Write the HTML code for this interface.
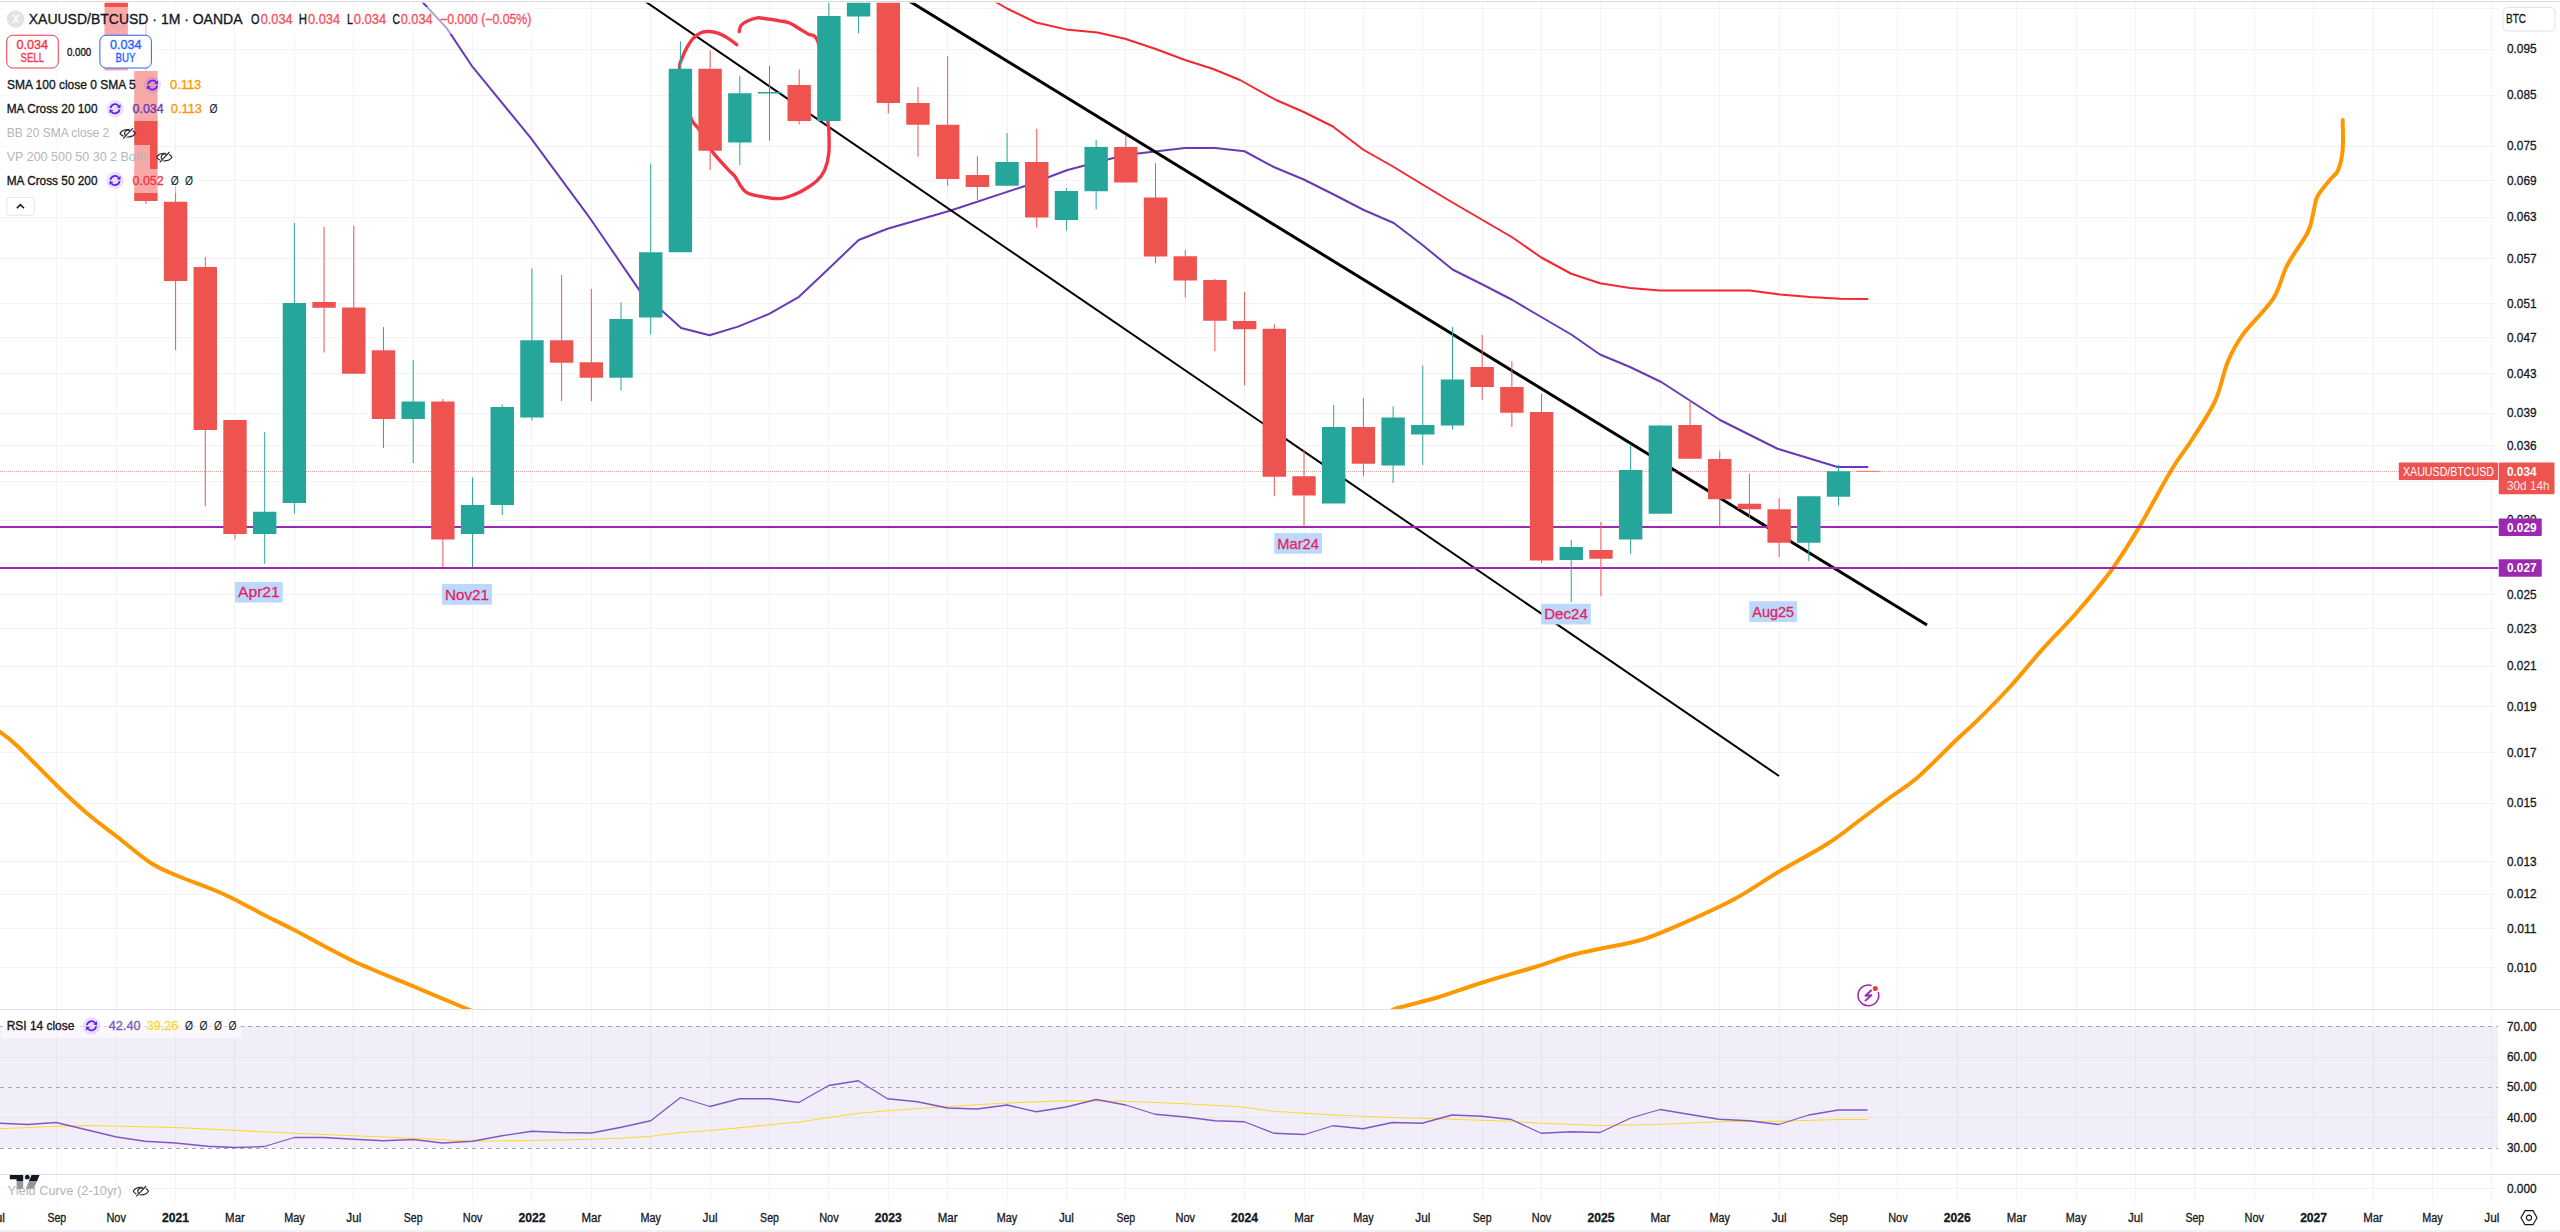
<!DOCTYPE html>
<html><head><meta charset="utf-8"><style>
html,body{margin:0;padding:0;width:2560px;height:1232px;overflow:hidden;background:#fff}
body{position:relative;font-family:"Liberation Sans",sans-serif;color:#131722}
</style></head><body>
<svg width="2560" height="1232" viewBox="0 0 2560 1232" style="position:absolute;left:0;top:0;font-family:'Liberation Sans',sans-serif">
<defs><clipPath id="cm"><rect x="0" y="2.75" width="2498" height="1006.25"/></clipPath><clipPath id="cr"><rect x="0" y="1010" width="2498" height="164"/></clipPath></defs>
<rect x="0" y="0" width="2560" height="1232" fill="#ffffff"/>
<path d="M56.5 3V1203 M116.5 3V1203 M175.5 3V1203 M234.5 3V1203 M294.5 3V1203 M353.5 3V1203 M413.5 3V1203 M472.5 3V1203 M531.5 3V1203 M591.5 3V1203 M650.5 3V1203 M710.5 3V1203 M769.5 3V1203 M828.5 3V1203 M888.5 3V1203 M947.5 3V1203 M1007.5 3V1203 M1066.5 3V1203 M1125.5 3V1203 M1185.5 3V1203 M1244.5 3V1203 M1304.5 3V1203 M1363.5 3V1203 M1422.5 3V1203 M1482.5 3V1203 M1541.5 3V1203 M1600.5 3V1203 M1660.5 3V1203 M1719.5 3V1203 M1779.5 3V1203 M1838.5 3V1203 M1897.5 3V1203 M1957.5 3V1203 M2016.5 3V1203 M2076.5 3V1203 M2135.5 3V1203 M2194.5 3V1203 M2254.5 3V1203 M2313.5 3V1203 M2373.5 3V1203 M2432.5 3V1203 M2491.5 3V1203 M0 8.5H2498 M0 49.5H2498 M0 95.5H2498 M0 146.5H2498 M0 180.5H2498 M0 217.5H2498 M0 258.5H2498 M0 303.5H2498 M0 337.5H2498 M0 373.5H2498 M0 413.5H2498 M0 445.5H2498 M0 481.5H2498 M0 520.5H2498 M0 563.5H2498 M0 594.5H2498 M0 628.5H2498 M0 666.5H2498 M0 706.5H2498 M0 752.5H2498 M0 803.5H2498 M0 861.5H2498 M0 894.5H2498 M0 928.5H2498 M0 967.5H2498 M0 1057.5H2498 M0 1117.5H2498 M0 1188.5H2498" stroke="#F2F4F4" stroke-width="1" fill="none"/>
<path d="M0 1009.5H2560M0 1174.5H2560M0 1231H2560" stroke="#E0E3EB" stroke-width="1" fill="none"/><path d="M0 1.5H2560" stroke="#D8DBDC" stroke-width="1" fill="none"/>
<g clip-path="url(#cm)">
<path d="M-5.00 729.00 C-4.17 729.50 -3.54 729.33 0.00 732.00 C3.54 734.67 6.67 735.96 16.25 745.00 C25.83 754.04 45.62 774.79 57.50 786.25 C69.38 797.71 77.67 805.42 87.50 813.75 C97.33 822.08 106.08 828.12 116.50 836.25 C126.92 844.38 140.17 856.04 150.00 862.50 C159.83 868.96 163.83 870.00 175.50 875.00 C187.17 880.00 207.58 887.08 220.00 892.50 C232.42 897.92 242.50 903.67 250.00 907.50 C257.50 911.33 257.62 911.75 265.00 915.50 C272.38 919.25 279.46 922.38 294.25 930.00 C309.04 937.62 333.92 951.88 353.75 961.25 C373.58 970.62 395.12 978.62 413.25 986.25 C431.38 993.88 452.21 1002.71 462.50 1007.00 C472.79 1011.29 472.92 1011.17 475.00 1012.00" fill="none" stroke="#FF9800" stroke-width="4" stroke-linejoin="round"/>
<path d="M1390.00 1012.00 C1391.25 1011.33 1389.58 1010.42 1397.50 1008.00 C1405.42 1005.58 1423.33 1001.75 1437.50 997.50 C1451.67 993.25 1466.25 987.58 1482.50 982.50 C1498.75 977.42 1520.42 971.50 1535.00 967.00 C1549.58 962.50 1559.17 958.54 1570.00 955.50 C1580.83 952.46 1587.92 951.42 1600.00 948.75 C1612.08 946.08 1627.92 944.08 1642.50 939.50 C1657.08 934.92 1672.08 928.04 1687.50 921.25 C1702.92 914.46 1720.00 906.88 1735.00 898.75 C1750.00 890.62 1762.08 881.67 1777.50 872.50 C1792.92 863.33 1813.75 852.50 1827.50 843.75 C1841.25 835.00 1849.58 827.71 1860.00 820.00 C1870.42 812.29 1880.42 804.58 1890.00 797.50 C1899.58 790.42 1906.67 786.88 1917.50 777.50 C1928.33 768.12 1944.98 750.80 1955.00 741.25 C1965.02 731.70 1968.38 729.33 1977.60 720.20 C1986.82 711.08 1999.40 698.42 2010.30 686.50 C2021.20 674.58 2032.08 660.87 2043.00 648.70 C2053.92 636.53 2064.47 626.50 2075.80 613.50 C2087.13 600.50 2100.52 584.97 2111.00 570.70 C2121.48 556.43 2128.63 544.68 2138.70 527.90 C2148.77 511.12 2162.57 484.65 2171.40 470.00 C2180.23 455.35 2184.40 451.52 2191.70 440.00 C2199.00 428.48 2209.22 413.87 2215.20 400.90 C2221.18 387.93 2223.00 373.25 2227.60 362.20 C2232.20 351.15 2235.20 345.18 2242.80 334.60 C2250.40 324.02 2265.83 310.20 2273.20 298.70 C2280.57 287.20 2281.25 276.63 2287.00 265.60 C2292.75 254.57 2303.33 241.23 2307.70 232.50 C2312.07 223.77 2311.60 219.18 2313.20 213.20 C2314.80 207.22 2314.53 202.13 2317.30 196.60 C2320.07 191.07 2326.35 184.37 2329.80 180.00 C2333.25 175.63 2335.85 175.45 2338.00 170.40 C2340.15 165.35 2341.92 158.12 2342.70 149.70 C2343.48 141.28 2342.70 124.87 2342.70 119.90" fill="none" stroke="#FF9800" stroke-width="4" stroke-linejoin="round" stroke-linecap="round"/>
<polyline points="418.00,-4.00 422.70,2.30 446.90,28.40 472.40,66.70 530.70,137.80 590.30,218.70 640.00,291.10 681.20,328.00 709.60,335.20 738.00,326.60 769.20,313.90 799.00,296.80 828.90,268.40 858.70,240.00 887.50,228.75 950.00,210.75 1025.00,186.00 1067.50,170.00 1125.00,155.00 1185.00,148.00 1215.00,148.00 1244.50,151.25 1273.75,167.00 1303.75,179.50 1333.75,194.50 1363.75,210.00 1393.75,223.00 1422.50,245.00 1452.50,269.50 1482.50,284.50 1512.50,300.00 1541.25,317.00 1571.25,334.50 1600.00,354.50 1630.00,367.00 1661.25,382.00 1720.00,420.00 1777.50,448.75 1837.50,467.00 1867.50,467.00" fill="none" stroke="#673AB7" stroke-width="2" stroke-linejoin="round" stroke-linecap="round"/>
<polyline points="985.00,-4.00 997.00,2.75 1007.50,8.75 1036.00,22.50 1066.00,29.40 1097.50,32.50 1125.00,38.75 1155.00,48.75 1185.00,60.00 1212.50,68.75 1240.00,80.00 1276.00,100.00 1303.75,112.00 1332.50,126.25 1363.75,150.00 1392.50,166.25 1421.25,183.75 1452.50,202.50 1482.50,220.00 1512.50,237.50 1541.25,257.50 1571.25,273.75 1600.00,283.25 1630.00,288.00 1660.00,290.50 1750.00,290.50 1780.00,294.50 1810.00,297.00 1840.00,298.75 1867.50,299.00" fill="none" stroke="#F7252F" stroke-width="2" stroke-linejoin="round" stroke-linecap="round"/>
<line x1="640.2" y1="-2" x2="1779" y2="776" stroke="#000" stroke-width="2"/>
<line x1="904.3" y1="-2" x2="1927" y2="625" stroke="#000" stroke-width="3"/>
<path d="M736.70 44.70 C735.28 43.65 731.32 40.32 728.20 38.40 C725.08 36.48 721.13 34.35 718.00 33.20 C714.87 32.05 712.25 31.58 709.40 31.50 C706.55 31.42 703.60 31.55 700.90 32.70 C698.20 33.85 695.47 36.03 693.20 38.40 C690.93 40.77 689.13 43.63 687.30 46.90 C685.47 50.17 683.48 54.45 682.20 58.00 C680.92 61.55 679.13 62.03 679.60 68.20 C680.07 74.37 683.02 86.47 685.00 95.00 C686.98 103.53 689.13 113.63 691.50 119.40 C693.87 125.17 695.92 124.50 699.20 129.60 C702.48 134.70 707.78 144.88 711.20 150.00 C714.62 155.12 716.58 156.73 719.70 160.30 C722.82 163.87 727.35 168.70 729.90 171.40 C732.45 174.10 733.02 173.80 735.00 176.50 C736.98 179.20 739.80 184.90 741.80 187.60 C743.80 190.30 744.15 191.28 747.00 192.70 C749.85 194.12 753.50 195.12 758.90 196.10 C764.30 197.08 773.43 198.88 779.40 198.60 C785.37 198.32 790.45 195.95 794.70 194.40 C798.95 192.85 801.20 191.58 804.90 189.30 C808.60 187.02 813.63 183.83 816.90 180.70 C820.17 177.57 822.52 175.03 824.50 170.50 C826.48 165.97 828.08 160.32 828.80 153.50 C829.52 146.68 828.95 135.02 828.80 129.60 C828.65 124.18 828.53 130.93 827.90 121.00 C827.27 111.07 826.83 83.63 825.00 70.00 C823.17 56.37 819.68 45.18 816.90 39.20 C814.12 33.22 811.15 35.80 808.30 34.10 C805.45 32.40 802.92 30.85 799.80 29.00 C796.68 27.15 793.00 24.37 789.60 23.00 C786.20 21.63 783.38 21.50 779.40 20.80 C775.42 20.10 769.40 19.28 765.70 18.80 C762.00 18.32 760.32 17.48 757.20 17.90 C754.08 18.32 749.70 20.02 747.00 21.30 C744.30 22.58 742.28 23.90 741.00 25.60 C739.72 27.30 739.58 30.52 739.30 31.50" fill="none" stroke="#F23645" stroke-width="3.4" stroke-linejoin="round" stroke-linecap="round"/>
<path d="M0 527H2498M0 568H2498" stroke="#9C27B0" stroke-width="2" fill="none"/>
<line x1="0" y1="471.5" x2="2498" y2="471.5" stroke="#EF5350" stroke-width="1" stroke-dasharray="1,1" opacity="0.55"/>
<path d="M116.21 -5.00V70.60 M145.91 21.00V204.00 M175.60 186.00V350.00 M205.29 257.00V506.00 M234.99 420.00V539.50 M324.07 226.75V352.50 M353.77 225.75V373.75 M383.47 327.00V448.00 M442.86 399.00V567.00 M561.63 275.00V401.25 M591.33 288.75V401.25 M710.11 50.50V170.00 M799.20 69.50V124.40 M888.28 -5.00V113.50 M917.98 87.00V156.75 M947.67 56.25V185.75 M977.37 156.25V200.00 M1036.75 128.75V227.50 M1125.84 135.75V182.50 M1155.54 163.00V263.25 M1185.23 250.00V297.50 M1214.92 279.00V351.25 M1244.62 292.00V385.50 M1274.31 324.25V496.25 M1304.01 450.00V526.25 M1363.40 398.00V476.25 M1482.18 335.00V400.00 M1511.88 361.25V427.00 M1541.57 393.75V563.00 M1600.96 522.00V596.25 M1690.04 400.00V458.75 M1719.74 451.25V526.25 M1749.43 473.75V518.00 M1779.13 498.00V557.00" stroke="#EF5350" stroke-width="1" fill="none"/>
<path d="M104.51 -5.00H127.91V70.60H104.51Z M134.21 71.00H157.60V201.00H134.21Z M163.90 201.75H187.30V281.00H163.90Z M193.59 267.00H216.99V430.00H193.59Z M223.29 420.00H246.69V534.00H223.29Z M312.38 302.00H335.77V307.75H312.38Z M342.07 307.50H365.47V373.75H342.07Z M371.77 350.25H395.17V419.00H371.77Z M431.16 401.50H454.56V539.50H431.16Z M549.93 340.25H573.34V362.75H549.93Z M579.63 362.25H603.03V377.75H579.63Z M698.41 68.75H721.81V150.75H698.41Z M787.50 85.00H810.90V121.00H787.50Z M876.58 -5.00H899.98V103.00H876.58Z M906.27 103.00H929.68V124.75H906.27Z M935.97 124.75H959.37V179.00H935.97Z M965.66 175.00H989.07V187.00H965.66Z M1025.05 162.00H1048.45V217.50H1025.05Z M1114.14 147.00H1137.54V182.50H1114.14Z M1143.84 197.50H1167.24V256.50H1143.84Z M1173.53 256.25H1196.93V280.50H1173.53Z M1203.22 280.00H1226.62V320.75H1203.22Z M1232.92 321.00H1256.32V329.25H1232.92Z M1262.61 328.75H1286.01V476.75H1262.61Z M1292.31 476.25H1315.71V495.50H1292.31Z M1351.70 427.00H1375.10V463.75H1351.70Z M1470.48 367.00H1493.88V387.00H1470.48Z M1500.17 387.00H1523.58V412.75H1500.17Z M1529.87 412.00H1553.27V560.50H1529.87Z M1589.26 550.00H1612.66V558.75H1589.26Z M1678.34 425.00H1701.74V458.75H1678.34Z M1708.04 459.00H1731.44V499.25H1708.04Z M1737.73 503.75H1761.13V509.25H1737.73Z M1767.43 509.25H1790.83V542.75H1767.43Z" fill="#EF5350"/>
<path d="M264.69 432.00V563.75 M294.38 223.00V513.75 M413.16 360.00V463.00 M472.55 477.50V567.00 M502.25 404.50V515.00 M531.94 268.50V420.60 M621.02 302.50V390.60 M650.72 163.50V334.60 M680.41 41.20V252.30 M739.81 76.00V165.00 M769.50 66.00V140.75 M828.89 -5.00V122.50 M858.59 -5.00V33.50 M1007.06 133.00V185.75 M1066.45 188.00V230.50 M1096.14 140.00V209.25 M1333.70 405.00V503.50 M1393.10 406.25V483.00 M1422.79 365.50V465.00 M1452.48 327.00V429.50 M1571.26 540.00V602.00 M1630.65 444.50V553.75 M1660.35 425.50V513.75 M1808.82 496.00V561.25 M1838.52 465.00V505.50" stroke="#26A69A" stroke-width="1" fill="none"/>
<path d="M252.99 511.75H276.38V534.00H252.99Z M282.68 303.00H306.08V503.00H282.68Z M401.46 401.50H424.86V419.00H401.46Z M460.85 505.00H484.25V534.00H460.85Z M490.55 407.00H513.95V505.00H490.55Z M520.24 340.25H543.64V417.50H520.24Z M609.32 319.00H632.73V377.75H609.32Z M639.02 252.20H662.42V317.50H639.02Z M668.71 68.70H692.12V252.30H668.71Z M728.11 93.25H751.51V142.50H728.11Z M757.80 92.00H781.20V93.50H757.80Z M817.19 16.00H840.59V121.00H817.19Z M846.88 -5.00H870.29V16.50H846.88Z M995.36 162.00H1018.76V185.75H995.36Z M1054.75 191.00H1078.15V220.00H1054.75Z M1084.44 147.00H1107.85V191.25H1084.44Z M1322.00 427.00H1345.40V503.50H1322.00Z M1381.39 417.50H1404.80V465.50H1381.39Z M1411.09 425.00H1434.49V434.50H1411.09Z M1440.78 379.50H1464.18V425.50H1440.78Z M1559.56 547.00H1582.96V560.00H1559.56Z M1618.95 470.00H1642.36V539.50H1618.95Z M1648.65 425.50H1672.05V513.75H1648.65Z M1797.12 496.25H1820.52V542.75H1797.12Z M1826.82 471.25H1850.22V496.75H1826.82Z" fill="#26A69A"/>
<rect x="1856.51" y="470.8" width="23.4" height="1" fill="#EF5350" opacity="0.75"/>
</g>
<g clip-path="url(#cr)">
<rect x="0" y="1026" width="2498" height="122" fill="#7E57C2" fill-opacity="0.1"/>
<line x1="0" y1="1026.5" x2="2498" y2="1026.5" stroke="#A3A6AF" stroke-width="1" stroke-dasharray="4,4"/>
<line x1="0" y1="1087.5" x2="2498" y2="1087.5" stroke="#A3A6AF" stroke-width="1" stroke-dasharray="4,4"/>
<line x1="0" y1="1148.5" x2="2498" y2="1148.5" stroke="#A3A6AF" stroke-width="1" stroke-dasharray="4,4"/>
<polyline points="-5.00,1129.00 0.00,1128.75 56.25,1126.25 87.50,1125.50 175.50,1127.50 294.25,1133.25 413.25,1138.25 472.50,1141.25 532.00,1140.50 591.50,1139.25 620.00,1138.25 650.75,1136.25 680.50,1132.50 710.00,1130.50 798.75,1122.00 858.25,1113.25 887.50,1110.75 947.50,1106.50 1007.00,1103.00 1066.25,1100.75 1125.75,1101.25 1185.00,1103.75 1240.00,1106.75 1273.75,1111.25 1333.00,1115.00 1392.50,1117.50 1452.00,1119.25 1511.25,1121.25 1541.25,1123.25 1600.00,1125.50 1660.00,1124.50 1718.75,1121.75 1778.75,1121.25 1838.25,1119.50 1867.50,1119.50" fill="none" stroke="#FDD835" stroke-width="1.15" stroke-linejoin="round"/>
<polyline points="-5.00,1123.00 0.00,1123.25 27.50,1124.50 56.25,1122.50 116.50,1137.00 145.00,1141.25 175.50,1143.00 207.50,1146.25 235.00,1147.50 264.25,1146.50 294.25,1137.50 323.75,1137.50 353.75,1139.25 383.25,1140.75 413.25,1139.50 442.50,1143.00 472.50,1141.25 502.00,1135.75 532.00,1131.25 561.50,1132.50 591.50,1133.00 620.00,1127.50 650.75,1120.75 680.50,1097.50 710.00,1106.50 739.50,1098.75 769.50,1098.75 798.75,1102.50 828.75,1085.50 858.25,1080.75 887.50,1098.75 917.50,1101.75 947.50,1108.00 977.00,1109.00 1007.00,1105.00 1036.25,1111.75 1066.25,1107.00 1096.25,1099.50 1125.75,1105.00 1155.00,1114.25 1185.00,1117.00 1215.00,1120.75 1244.25,1121.75 1273.75,1133.25 1304.50,1134.50 1333.00,1125.75 1363.00,1128.75 1392.50,1122.50 1422.00,1123.25 1452.00,1115.00 1482.00,1116.25 1511.25,1119.50 1541.25,1133.25 1571.25,1131.75 1600.00,1132.50 1630.75,1118.00 1660.00,1109.50 1690.00,1114.50 1718.75,1119.25 1749.25,1120.75 1778.75,1124.50 1808.75,1115.00 1838.25,1110.00 1867.50,1110.00" fill="none" stroke="#7E57C2" stroke-width="1.3" stroke-linejoin="round"/>
</g>
<rect x="235" y="582" width="47.75" height="20.5" fill="#BBD9FB"/>
<text x="258.875" y="597.45" text-anchor="middle" font-size="15" fill="#E91E63" stroke="#E91E63" stroke-width="0.3" textLength="41.75" lengthAdjust="spacingAndGlyphs">Apr21</text>
<rect x="442" y="584" width="50" height="20.75" fill="#BBD9FB"/>
<text x="467.0" y="599.575" text-anchor="middle" font-size="15" fill="#E91E63" stroke="#E91E63" stroke-width="0.3" textLength="44" lengthAdjust="spacingAndGlyphs">Nov21</text>
<rect x="1274.25" y="533" width="47.75" height="20.75" fill="#BBD9FB"/>
<text x="1298.125" y="548.575" text-anchor="middle" font-size="15" fill="#E91E63" stroke="#E91E63" stroke-width="0.3" textLength="41.75" lengthAdjust="spacingAndGlyphs">Mar24</text>
<rect x="1541.25" y="603.75" width="49.5" height="20.75" fill="#BBD9FB"/>
<text x="1566.0" y="619.325" text-anchor="middle" font-size="15" fill="#E91E63" stroke="#E91E63" stroke-width="0.3" textLength="43.5" lengthAdjust="spacingAndGlyphs">Dec24</text>
<rect x="1749.25" y="601.25" width="47.75" height="20.75" fill="#BBD9FB"/>
<text x="1773.125" y="616.825" text-anchor="middle" font-size="15" fill="#E91E63" stroke="#E91E63" stroke-width="0.3" textLength="41.75" lengthAdjust="spacingAndGlyphs">Aug25</text>
<g transform="translate(1868.4,995.4)"><path d="M9.81 -3.30A10.35 10.35 0 1 1 3.2 -9.84" fill="none" stroke="#9C27B0" stroke-width="1.5"/><path d="M2.7 -4.9L-3.0 0.3L3.0 -0.1L-3.0 5.2" fill="none" stroke="#9C27B0" stroke-width="1.9" stroke-linejoin="round" stroke-linecap="round"/><circle cx="6.9" cy="-6.9" r="2.5" fill="#F23645"/></g>
<text x="2507" y="53.3" font-size="12.5" fill="#131722" stroke="#131722" stroke-width="0.3" textLength="29.5" lengthAdjust="spacingAndGlyphs">0.095</text>
<text x="2507" y="99.3" font-size="12.5" fill="#131722" stroke="#131722" stroke-width="0.3" textLength="29.5" lengthAdjust="spacingAndGlyphs">0.085</text>
<text x="2507" y="150.3" font-size="12.5" fill="#131722" stroke="#131722" stroke-width="0.3" textLength="29.5" lengthAdjust="spacingAndGlyphs">0.075</text>
<text x="2507" y="184.8" font-size="12.5" fill="#131722" stroke="#131722" stroke-width="0.3" textLength="29.5" lengthAdjust="spacingAndGlyphs">0.069</text>
<text x="2507" y="221.3" font-size="12.5" fill="#131722" stroke="#131722" stroke-width="0.3" textLength="29.5" lengthAdjust="spacingAndGlyphs">0.063</text>
<text x="2507" y="263.05" font-size="12.5" fill="#131722" stroke="#131722" stroke-width="0.3" textLength="29.5" lengthAdjust="spacingAndGlyphs">0.057</text>
<text x="2507" y="308.05" font-size="12.5" fill="#131722" stroke="#131722" stroke-width="0.3" textLength="29.5" lengthAdjust="spacingAndGlyphs">0.051</text>
<text x="2507" y="341.8" font-size="12.5" fill="#131722" stroke="#131722" stroke-width="0.3" textLength="29.5" lengthAdjust="spacingAndGlyphs">0.047</text>
<text x="2507" y="377.8" font-size="12.5" fill="#131722" stroke="#131722" stroke-width="0.3" textLength="29.5" lengthAdjust="spacingAndGlyphs">0.043</text>
<text x="2507" y="417.3" font-size="12.5" fill="#131722" stroke="#131722" stroke-width="0.3" textLength="29.5" lengthAdjust="spacingAndGlyphs">0.039</text>
<text x="2507" y="450.3" font-size="12.5" fill="#131722" stroke="#131722" stroke-width="0.3" textLength="29.5" lengthAdjust="spacingAndGlyphs">0.036</text>
<text x="2507" y="524.3" font-size="12.5" fill="#131722" stroke="#131722" stroke-width="0.3" textLength="29.5" lengthAdjust="spacingAndGlyphs">0.030</text>
<text x="2507" y="599.05" font-size="12.5" fill="#131722" stroke="#131722" stroke-width="0.3" textLength="29.5" lengthAdjust="spacingAndGlyphs">0.025</text>
<text x="2507" y="632.8" font-size="12.5" fill="#131722" stroke="#131722" stroke-width="0.3" textLength="29.5" lengthAdjust="spacingAndGlyphs">0.023</text>
<text x="2507" y="670.3" font-size="12.5" fill="#131722" stroke="#131722" stroke-width="0.3" textLength="29.5" lengthAdjust="spacingAndGlyphs">0.021</text>
<text x="2507" y="710.8" font-size="12.5" fill="#131722" stroke="#131722" stroke-width="0.3" textLength="29.5" lengthAdjust="spacingAndGlyphs">0.019</text>
<text x="2507" y="756.55" font-size="12.5" fill="#131722" stroke="#131722" stroke-width="0.3" textLength="29.5" lengthAdjust="spacingAndGlyphs">0.017</text>
<text x="2507" y="807.3" font-size="12.5" fill="#131722" stroke="#131722" stroke-width="0.3" textLength="29.5" lengthAdjust="spacingAndGlyphs">0.015</text>
<text x="2507" y="865.8" font-size="12.5" fill="#131722" stroke="#131722" stroke-width="0.3" textLength="29.5" lengthAdjust="spacingAndGlyphs">0.013</text>
<text x="2507" y="897.8" font-size="12.5" fill="#131722" stroke="#131722" stroke-width="0.3" textLength="29.5" lengthAdjust="spacingAndGlyphs">0.012</text>
<text x="2507" y="933.3" font-size="12.5" fill="#131722" stroke="#131722" stroke-width="0.3" textLength="29.5" lengthAdjust="spacingAndGlyphs">0.011</text>
<text x="2507" y="972.05" font-size="12.5" fill="#131722" stroke="#131722" stroke-width="0.3" textLength="29.5" lengthAdjust="spacingAndGlyphs">0.010</text>
<text x="2507" y="1030.8" font-size="12.5" fill="#131722" stroke="#131722" stroke-width="0.3" textLength="29.5" lengthAdjust="spacingAndGlyphs">70.00</text>
<text x="2507" y="1061.3" font-size="12.5" fill="#131722" stroke="#131722" stroke-width="0.3" textLength="29.5" lengthAdjust="spacingAndGlyphs">60.00</text>
<text x="2507" y="1091.3" font-size="12.5" fill="#131722" stroke="#131722" stroke-width="0.3" textLength="29.5" lengthAdjust="spacingAndGlyphs">50.00</text>
<text x="2507" y="1122.05" font-size="12.5" fill="#131722" stroke="#131722" stroke-width="0.3" textLength="29.5" lengthAdjust="spacingAndGlyphs">40.00</text>
<text x="2507" y="1152.05" font-size="12.5" fill="#131722" stroke="#131722" stroke-width="0.3" textLength="29.5" lengthAdjust="spacingAndGlyphs">30.00</text>
<text x="2507" y="1193.3" font-size="12.5" fill="#131722" stroke="#131722" stroke-width="0.3" textLength="29.5" lengthAdjust="spacingAndGlyphs">0.000</text>
<rect x="2503" y="7.5" width="52" height="23.5" rx="4" fill="#fff" stroke="#E0E3EB"/>
<text x="2506" y="23.4" font-size="12.5" fill="#131722" stroke="#131722" stroke-width="0.3" textLength="20" lengthAdjust="spacingAndGlyphs">BTC</text>
<rect x="2398.75" y="462.5" width="99.25" height="17.5" rx="1" fill="#EF5350"/>
<text x="2403" y="475.6" font-size="12.5" fill="#fff" textLength="91" lengthAdjust="spacingAndGlyphs">XAUUSD/BTCUSD</text>
<rect x="2498.75" y="462.5" width="55.75" height="31.75" rx="1" fill="#EF5350"/>
<text x="2507" y="475.6" font-size="12.5" font-weight="bold" fill="#fff" textLength="29.5" lengthAdjust="spacingAndGlyphs">0.034</text>
<text x="2507" y="489.8" font-size="12.5" fill="#FCE4E4" textLength="42.5" lengthAdjust="spacingAndGlyphs">30d 14h</text>
<rect x="2498.75" y="518.5" width="43" height="17.5" rx="1" fill="#9C27B0"/>
<text x="2507" y="531.6" font-size="12.5" font-weight="bold" fill="#fff" textLength="29.5" lengthAdjust="spacingAndGlyphs">0.029</text>
<rect x="2498.75" y="559.25" width="43" height="17.5" rx="1" fill="#9C27B0"/>
<text x="2507" y="572.35" font-size="12.5" font-weight="bold" fill="#fff" textLength="29.5" lengthAdjust="spacingAndGlyphs">0.027</text>
<text x="-10.07" y="1222" font-size="12.5" font-weight="normal" fill="#131722" stroke="#131722" stroke-width="0.3" textLength="15" lengthAdjust="spacingAndGlyphs">Jul</text>
<text x="47.44" y="1222" font-size="12.5" font-weight="normal" fill="#131722" stroke="#131722" stroke-width="0.3" textLength="18.75" lengthAdjust="spacingAndGlyphs">Sep</text>
<text x="106.46" y="1222" font-size="12.5" font-weight="normal" fill="#131722" stroke="#131722" stroke-width="0.3" textLength="19.5" lengthAdjust="spacingAndGlyphs">Nov</text>
<text x="162.10" y="1222" font-size="12.5" font-weight="bold" fill="#131722" stroke="#131722" stroke-width="0.3" textLength="27" lengthAdjust="spacingAndGlyphs">2021</text>
<text x="225.12" y="1222" font-size="12.5" font-weight="normal" fill="#131722" stroke="#131722" stroke-width="0.3" textLength="19.75" lengthAdjust="spacingAndGlyphs">Mar</text>
<text x="284.13" y="1222" font-size="12.5" font-weight="normal" fill="#131722" stroke="#131722" stroke-width="0.3" textLength="20.5" lengthAdjust="spacingAndGlyphs">May</text>
<text x="346.27" y="1222" font-size="12.5" font-weight="normal" fill="#131722" stroke="#131722" stroke-width="0.3" textLength="15" lengthAdjust="spacingAndGlyphs">Jul</text>
<text x="403.78" y="1222" font-size="12.5" font-weight="normal" fill="#131722" stroke="#131722" stroke-width="0.3" textLength="18.75" lengthAdjust="spacingAndGlyphs">Sep</text>
<text x="462.80" y="1222" font-size="12.5" font-weight="normal" fill="#131722" stroke="#131722" stroke-width="0.3" textLength="19.5" lengthAdjust="spacingAndGlyphs">Nov</text>
<text x="518.44" y="1222" font-size="12.5" font-weight="bold" fill="#131722" stroke="#131722" stroke-width="0.3" textLength="27" lengthAdjust="spacingAndGlyphs">2022</text>
<text x="581.46" y="1222" font-size="12.5" font-weight="normal" fill="#131722" stroke="#131722" stroke-width="0.3" textLength="19.75" lengthAdjust="spacingAndGlyphs">Mar</text>
<text x="640.47" y="1222" font-size="12.5" font-weight="normal" fill="#131722" stroke="#131722" stroke-width="0.3" textLength="20.5" lengthAdjust="spacingAndGlyphs">May</text>
<text x="702.61" y="1222" font-size="12.5" font-weight="normal" fill="#131722" stroke="#131722" stroke-width="0.3" textLength="15" lengthAdjust="spacingAndGlyphs">Jul</text>
<text x="760.12" y="1222" font-size="12.5" font-weight="normal" fill="#131722" stroke="#131722" stroke-width="0.3" textLength="18.75" lengthAdjust="spacingAndGlyphs">Sep</text>
<text x="819.14" y="1222" font-size="12.5" font-weight="normal" fill="#131722" stroke="#131722" stroke-width="0.3" textLength="19.5" lengthAdjust="spacingAndGlyphs">Nov</text>
<text x="874.78" y="1222" font-size="12.5" font-weight="bold" fill="#131722" stroke="#131722" stroke-width="0.3" textLength="27" lengthAdjust="spacingAndGlyphs">2023</text>
<text x="937.80" y="1222" font-size="12.5" font-weight="normal" fill="#131722" stroke="#131722" stroke-width="0.3" textLength="19.75" lengthAdjust="spacingAndGlyphs">Mar</text>
<text x="996.81" y="1222" font-size="12.5" font-weight="normal" fill="#131722" stroke="#131722" stroke-width="0.3" textLength="20.5" lengthAdjust="spacingAndGlyphs">May</text>
<text x="1058.95" y="1222" font-size="12.5" font-weight="normal" fill="#131722" stroke="#131722" stroke-width="0.3" textLength="15" lengthAdjust="spacingAndGlyphs">Jul</text>
<text x="1116.46" y="1222" font-size="12.5" font-weight="normal" fill="#131722" stroke="#131722" stroke-width="0.3" textLength="18.75" lengthAdjust="spacingAndGlyphs">Sep</text>
<text x="1175.48" y="1222" font-size="12.5" font-weight="normal" fill="#131722" stroke="#131722" stroke-width="0.3" textLength="19.5" lengthAdjust="spacingAndGlyphs">Nov</text>
<text x="1231.12" y="1222" font-size="12.5" font-weight="bold" fill="#131722" stroke="#131722" stroke-width="0.3" textLength="27" lengthAdjust="spacingAndGlyphs">2024</text>
<text x="1294.13" y="1222" font-size="12.5" font-weight="normal" fill="#131722" stroke="#131722" stroke-width="0.3" textLength="19.75" lengthAdjust="spacingAndGlyphs">Mar</text>
<text x="1353.15" y="1222" font-size="12.5" font-weight="normal" fill="#131722" stroke="#131722" stroke-width="0.3" textLength="20.5" lengthAdjust="spacingAndGlyphs">May</text>
<text x="1415.29" y="1222" font-size="12.5" font-weight="normal" fill="#131722" stroke="#131722" stroke-width="0.3" textLength="15" lengthAdjust="spacingAndGlyphs">Jul</text>
<text x="1472.80" y="1222" font-size="12.5" font-weight="normal" fill="#131722" stroke="#131722" stroke-width="0.3" textLength="18.75" lengthAdjust="spacingAndGlyphs">Sep</text>
<text x="1531.82" y="1222" font-size="12.5" font-weight="normal" fill="#131722" stroke="#131722" stroke-width="0.3" textLength="19.5" lengthAdjust="spacingAndGlyphs">Nov</text>
<text x="1587.46" y="1222" font-size="12.5" font-weight="bold" fill="#131722" stroke="#131722" stroke-width="0.3" textLength="27" lengthAdjust="spacingAndGlyphs">2025</text>
<text x="1650.47" y="1222" font-size="12.5" font-weight="normal" fill="#131722" stroke="#131722" stroke-width="0.3" textLength="19.75" lengthAdjust="spacingAndGlyphs">Mar</text>
<text x="1709.49" y="1222" font-size="12.5" font-weight="normal" fill="#131722" stroke="#131722" stroke-width="0.3" textLength="20.5" lengthAdjust="spacingAndGlyphs">May</text>
<text x="1771.63" y="1222" font-size="12.5" font-weight="normal" fill="#131722" stroke="#131722" stroke-width="0.3" textLength="15" lengthAdjust="spacingAndGlyphs">Jul</text>
<text x="1829.14" y="1222" font-size="12.5" font-weight="normal" fill="#131722" stroke="#131722" stroke-width="0.3" textLength="18.75" lengthAdjust="spacingAndGlyphs">Sep</text>
<text x="1888.16" y="1222" font-size="12.5" font-weight="normal" fill="#131722" stroke="#131722" stroke-width="0.3" textLength="19.5" lengthAdjust="spacingAndGlyphs">Nov</text>
<text x="1943.80" y="1222" font-size="12.5" font-weight="bold" fill="#131722" stroke="#131722" stroke-width="0.3" textLength="27" lengthAdjust="spacingAndGlyphs">2026</text>
<text x="2006.81" y="1222" font-size="12.5" font-weight="normal" fill="#131722" stroke="#131722" stroke-width="0.3" textLength="19.75" lengthAdjust="spacingAndGlyphs">Mar</text>
<text x="2065.83" y="1222" font-size="12.5" font-weight="normal" fill="#131722" stroke="#131722" stroke-width="0.3" textLength="20.5" lengthAdjust="spacingAndGlyphs">May</text>
<text x="2127.97" y="1222" font-size="12.5" font-weight="normal" fill="#131722" stroke="#131722" stroke-width="0.3" textLength="15" lengthAdjust="spacingAndGlyphs">Jul</text>
<text x="2185.49" y="1222" font-size="12.5" font-weight="normal" fill="#131722" stroke="#131722" stroke-width="0.3" textLength="18.75" lengthAdjust="spacingAndGlyphs">Sep</text>
<text x="2244.50" y="1222" font-size="12.5" font-weight="normal" fill="#131722" stroke="#131722" stroke-width="0.3" textLength="19.5" lengthAdjust="spacingAndGlyphs">Nov</text>
<text x="2300.14" y="1222" font-size="12.5" font-weight="bold" fill="#131722" stroke="#131722" stroke-width="0.3" textLength="27" lengthAdjust="spacingAndGlyphs">2027</text>
<text x="2363.15" y="1222" font-size="12.5" font-weight="normal" fill="#131722" stroke="#131722" stroke-width="0.3" textLength="19.75" lengthAdjust="spacingAndGlyphs">Mar</text>
<text x="2422.17" y="1222" font-size="12.5" font-weight="normal" fill="#131722" stroke="#131722" stroke-width="0.3" textLength="20.5" lengthAdjust="spacingAndGlyphs">May</text>
<text x="2484.31" y="1222" font-size="12.5" font-weight="normal" fill="#131722" stroke="#131722" stroke-width="0.3" textLength="15" lengthAdjust="spacingAndGlyphs">Jul</text>
<g transform="translate(2529,1217.7)" fill="none" stroke="#131722" stroke-width="1.2"><path d="M-4 -7H4L8 0L4 7H-4L-8 0Z"/><circle r="2.6"/></g>
<rect x="2" y="7" width="532" height="27" fill="#ffffff" fill-opacity="0.5"/>
<rect x="2" y="34" width="156" height="37" fill="#ffffff" fill-opacity="0.5"/>
<rect x="2" y="71" width="206" height="25" fill="#ffffff" fill-opacity="0.5"/>
<rect x="2" y="96" width="220" height="25" fill="#ffffff" fill-opacity="0.5"/>
<rect x="2" y="121" width="131" height="24" fill="#ffffff" fill-opacity="0.5"/>
<rect x="2" y="145" width="148" height="24" fill="#ffffff" fill-opacity="0.5"/>
<rect x="2" y="169" width="196" height="24" fill="#ffffff" fill-opacity="0.5"/>
<circle cx="15.6" cy="19" r="8.7" fill="#E3E3E6"/>
<text x="15.6" y="23.3" font-size="11" fill="#fff" text-anchor="middle" font-weight="bold">X</text>
<text x="28.75" y="24.4" font-size="15" font-weight="normal" fill="#131722" stroke="#131722" stroke-width="0.35" textLength="213.75" lengthAdjust="spacingAndGlyphs">XAUUSD/BTCUSD · 1M · OANDA</text>
<text x="251" y="24.4" font-size="14" font-weight="normal" fill="#131722" stroke="#131722" stroke-width="0.35" textLength="8.50" lengthAdjust="spacingAndGlyphs">O</text>
<text x="260.75" y="24.4" font-size="14" font-weight="normal" fill="#F7525F" stroke="#F7525F" stroke-width="0.35" textLength="31.75" lengthAdjust="spacingAndGlyphs">0.034</text>
<text x="298.75" y="24.4" font-size="14" font-weight="normal" fill="#131722" stroke="#131722" stroke-width="0.35" textLength="8.25" lengthAdjust="spacingAndGlyphs">H</text>
<text x="308" y="24.4" font-size="14" font-weight="normal" fill="#F7525F" stroke="#F7525F" stroke-width="0.35" textLength="32.00" lengthAdjust="spacingAndGlyphs">0.034</text>
<text x="347" y="24.4" font-size="14" font-weight="normal" fill="#131722" stroke="#131722" stroke-width="0.35" textLength="6.00" lengthAdjust="spacingAndGlyphs">L</text>
<text x="353.75" y="24.4" font-size="14" font-weight="normal" fill="#F7525F" stroke="#F7525F" stroke-width="0.35" textLength="32.50" lengthAdjust="spacingAndGlyphs">0.034</text>
<text x="392.5" y="24.4" font-size="14" font-weight="normal" fill="#131722" stroke="#131722" stroke-width="0.35" textLength="7.50" lengthAdjust="spacingAndGlyphs">C</text>
<text x="400.75" y="24.4" font-size="14" font-weight="normal" fill="#F7525F" stroke="#F7525F" stroke-width="0.35" textLength="31.75" lengthAdjust="spacingAndGlyphs">0.034</text>
<text x="440" y="24.4" font-size="14" font-weight="normal" fill="#F7525F" stroke="#F7525F" stroke-width="0.35" textLength="91.25" lengthAdjust="spacingAndGlyphs">−0.000 (−0.05%)</text>
<rect x="6.75" y="35.25" width="51.5" height="32.75" rx="6" fill="#fff" stroke="#F23645" stroke-width="1"/>
<text x="16.6" y="48.5" font-size="12.5" font-weight="normal" fill="#F23645" stroke="#F23645" stroke-width="0.35" textLength="31.50" lengthAdjust="spacingAndGlyphs">0.034</text>
<text x="20.6" y="61.9" font-size="12" font-weight="normal" fill="#F23645" stroke="#F23645" stroke-width="0.35" textLength="23.40" lengthAdjust="spacingAndGlyphs">SELL</text>
<text x="66.9" y="55.6" font-size="11" font-weight="normal" fill="#131722" stroke="#131722" stroke-width="0.35" textLength="24.35" lengthAdjust="spacingAndGlyphs">0.000</text>
<rect x="99.9" y="35.25" width="51.5" height="32.75" rx="6" fill="#fff" stroke="#2962FF" stroke-width="1"/>
<text x="110" y="48.5" font-size="12.5" font-weight="normal" fill="#2962FF" stroke="#2962FF" stroke-width="0.35" textLength="31.50" lengthAdjust="spacingAndGlyphs">0.034</text>
<text x="115.6" y="61.9" font-size="12" font-weight="normal" fill="#2962FF" stroke="#2962FF" stroke-width="0.35" textLength="20.00" lengthAdjust="spacingAndGlyphs">BUY</text>
<text x="6.9" y="89.4" font-size="13" font-weight="normal" fill="#131722" stroke="#131722" stroke-width="0.35" textLength="128.70" lengthAdjust="spacingAndGlyphs">SMA 100 close 0 SMA 5</text>
<g transform="translate(152.5,85)"><circle r="8.6" fill="#7B61FF" fill-opacity="0.18"/><path d="M-4.6 -0.6A4.7 4.7 0 0 1 3.6 -3.0" fill="none" stroke="#6A1BF0" stroke-width="1.7"/><path d="M4.6 0.6A4.7 4.7 0 0 1 -3.6 3.0" fill="none" stroke="#6A1BF0" stroke-width="1.7"/><path d="M5.6 -4.6L5.4 -0.4L1.6 -1.6Z" fill="#6A1BF0"/><path d="M-5.6 4.6L-5.4 0.4L-1.6 1.6Z" fill="#6A1BF0"/></g>
<text x="170" y="89.4" font-size="13" font-weight="normal" fill="#FF9800" stroke="#FF9800" stroke-width="0.35" textLength="31.25" lengthAdjust="spacingAndGlyphs">0.113</text>
<text x="6.75" y="113.1" font-size="13" font-weight="normal" fill="#131722" stroke="#131722" stroke-width="0.35" textLength="90.75" lengthAdjust="spacingAndGlyphs">MA Cross 20 100</text>
<g transform="translate(115,108.75)"><circle r="8.6" fill="#7B61FF" fill-opacity="0.18"/><path d="M-4.6 -0.6A4.7 4.7 0 0 1 3.6 -3.0" fill="none" stroke="#6A1BF0" stroke-width="1.7"/><path d="M4.6 0.6A4.7 4.7 0 0 1 -3.6 3.0" fill="none" stroke="#6A1BF0" stroke-width="1.7"/><path d="M5.6 -4.6L5.4 -0.4L1.6 -1.6Z" fill="#6A1BF0"/><path d="M-5.6 4.6L-5.4 0.4L-1.6 1.6Z" fill="#6A1BF0"/></g>
<text x="132.5" y="113.1" font-size="13" font-weight="normal" fill="#673AB7" stroke="#673AB7" stroke-width="0.35" textLength="31.25" lengthAdjust="spacingAndGlyphs">0.034</text>
<text x="170.75" y="113.1" font-size="13" font-weight="normal" fill="#FF9800" stroke="#FF9800" stroke-width="0.35" textLength="31.25" lengthAdjust="spacingAndGlyphs">0.113</text>
<text x="209.5" y="113.1" font-size="13" fill="#131722" textLength="8.00" lengthAdjust="spacingAndGlyphs">Ø</text>
<text x="6.75" y="137" font-size="13" fill="#B4B6BA" textLength="102.50" lengthAdjust="spacingAndGlyphs">BB 20 SMA close 2</text>
<g transform="translate(127.7,133)" fill="none"><path d="M-7.6 0.4C-4.8 -4.6 4.8 -4.6 7.6 0.4C4.8 5.2 -4.8 5.2 -7.6 0.4Z" stroke="#2A2E39" stroke-width="1.2"/><path d="M-4.6 5.6L5.2 -4.8" stroke="#ffffff" stroke-width="3" stroke-opacity="0.9"/><path d="M-4.6 5.6L5.2 -4.8" stroke="#2A2E39" stroke-width="1.2"/><path d="M-2.2 2.6A2.6 2.6 0 0 1 2.4 -1.6" stroke="#2A2E39" stroke-width="1.1"/></g>
<text x="6.75" y="161.4" font-size="13" fill="#B4B6BA" textLength="139.50" lengthAdjust="spacingAndGlyphs">VP 200 500 50 30 2 Both</text>
<g transform="translate(164.3,156.8)" fill="none"><path d="M-7.6 0.4C-4.8 -4.6 4.8 -4.6 7.6 0.4C4.8 5.2 -4.8 5.2 -7.6 0.4Z" stroke="#2A2E39" stroke-width="1.2"/><path d="M-4.6 5.6L5.2 -4.8" stroke="#ffffff" stroke-width="3" stroke-opacity="0.9"/><path d="M-4.6 5.6L5.2 -4.8" stroke="#2A2E39" stroke-width="1.2"/><path d="M-2.2 2.6A2.6 2.6 0 0 1 2.4 -1.6" stroke="#2A2E39" stroke-width="1.1"/></g>
<text x="6.75" y="185" font-size="13" font-weight="normal" fill="#131722" stroke="#131722" stroke-width="0.35" textLength="90.75" lengthAdjust="spacingAndGlyphs">MA Cross 50 200</text>
<g transform="translate(115,180.5)"><circle r="8.6" fill="#7B61FF" fill-opacity="0.18"/><path d="M-4.6 -0.6A4.7 4.7 0 0 1 3.6 -3.0" fill="none" stroke="#6A1BF0" stroke-width="1.7"/><path d="M4.6 0.6A4.7 4.7 0 0 1 -3.6 3.0" fill="none" stroke="#6A1BF0" stroke-width="1.7"/><path d="M5.6 -4.6L5.4 -0.4L1.6 -1.6Z" fill="#6A1BF0"/><path d="M-5.6 4.6L-5.4 0.4L-1.6 1.6Z" fill="#6A1BF0"/></g>
<text x="132.5" y="185" font-size="13" font-weight="normal" fill="#F23645" stroke="#F23645" stroke-width="0.35" textLength="31.25" lengthAdjust="spacingAndGlyphs">0.052</text>
<text x="170.75" y="185" font-size="13" fill="#131722" textLength="8.00" lengthAdjust="spacingAndGlyphs">Ø</text>
<text x="185" y="185" font-size="13" fill="#131722" textLength="8.00" lengthAdjust="spacingAndGlyphs">Ø</text>
<rect x="6.75" y="197.25" width="27.5" height="18" rx="3" fill="#fff" stroke="#E0E3EB"/>
<path d="M16.8 208.2L20.4 204.6L24 208.2" fill="none" stroke="#131722" stroke-width="1.5"/>
<rect x="2" y="1018" width="239.5" height="20" fill="#ffffff" fill-opacity="0.6"/>
<text x="6.75" y="1030.4" font-size="13" font-weight="normal" fill="#131722" stroke="#131722" stroke-width="0.35" textLength="67.50" lengthAdjust="spacingAndGlyphs">RSI 14 close</text>
<g transform="translate(91.5,1025.8)"><circle r="8.6" fill="#7B61FF" fill-opacity="0.18"/><path d="M-4.6 -0.6A4.7 4.7 0 0 1 3.6 -3.0" fill="none" stroke="#6A1BF0" stroke-width="1.7"/><path d="M4.6 0.6A4.7 4.7 0 0 1 -3.6 3.0" fill="none" stroke="#6A1BF0" stroke-width="1.7"/><path d="M5.6 -4.6L5.4 -0.4L1.6 -1.6Z" fill="#6A1BF0"/><path d="M-5.6 4.6L-5.4 0.4L-1.6 1.6Z" fill="#6A1BF0"/></g>
<text x="108.75" y="1030.4" font-size="13" font-weight="normal" fill="#7E57C2" stroke="#7E57C2" stroke-width="0.35" textLength="31.75" lengthAdjust="spacingAndGlyphs">42.40</text>
<text x="146.75" y="1030.4" font-size="13" font-weight="normal" fill="#FDD835" stroke="#FDD835" stroke-width="0.35" textLength="31.50" lengthAdjust="spacingAndGlyphs">39.26</text>
<text x="185" y="1030.4" font-size="13" fill="#131722" textLength="8.00" lengthAdjust="spacingAndGlyphs">Ø</text>
<text x="199.5" y="1030.4" font-size="13" fill="#131722" textLength="8.00" lengthAdjust="spacingAndGlyphs">Ø</text>
<text x="214" y="1030.4" font-size="13" fill="#131722" textLength="8.00" lengthAdjust="spacingAndGlyphs">Ø</text>
<text x="228.5" y="1030.4" font-size="13" fill="#131722" textLength="8.00" lengthAdjust="spacingAndGlyphs">Ø</text>
<path d="M9.8 1175H23.2V1189H16.6V1179.3H9.8Z" fill="#131722"/><circle cx="27.3" cy="1177.2" r="2.4" fill="#131722"/><path d="M31.5 1175H39.6L33.6 1189H25.6Z" fill="#131722"/>
<rect x="2" y="1181" width="150" height="19" fill="#ffffff" fill-opacity="0.55"/>
<text x="7.6" y="1195.3" font-size="13" fill="#B4B6BA" textLength="114.30" lengthAdjust="spacingAndGlyphs">Yield Curve (2-10yr)</text>
<g transform="translate(140.9,1190.8)" fill="none"><path d="M-7.6 0.4C-4.8 -4.6 4.8 -4.6 7.6 0.4C4.8 5.2 -4.8 5.2 -7.6 0.4Z" stroke="#2A2E39" stroke-width="1.2"/><path d="M-4.6 5.6L5.2 -4.8" stroke="#ffffff" stroke-width="3" stroke-opacity="0.9"/><path d="M-4.6 5.6L5.2 -4.8" stroke="#2A2E39" stroke-width="1.2"/><path d="M-2.2 2.6A2.6 2.6 0 0 1 2.4 -1.6" stroke="#2A2E39" stroke-width="1.1"/></g>
</svg>

</body></html>
